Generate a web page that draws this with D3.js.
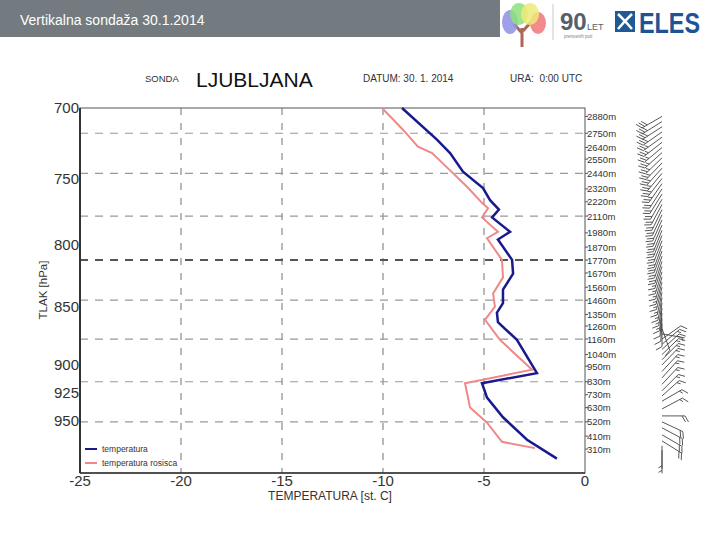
<!DOCTYPE html>
<html>
<head>
<meta charset="utf-8">
<script src="https://cdn.jsdelivr.net/npm/d3@7"></script>
<style>
  body { margin: 0; background: #fff; }
  svg { display: block; font-family: "Liberation Sans", Arial, sans-serif; }
</style>
</head>
<body>
<div id="chart"></div>
<script>
// temperature profile (hPa, st. C)
var tempP = [700, 722, 731.5, 745, 757, 766, 773, 779, 790, 796, 812, 823, 836, 847, 855, 863, 878, 907, 916, 929, 947, 968, 986];
var tempT = [-9.06, -7.33, -6.68, -6.04, -5.05, -4.70, -4.26, -4.60, -3.71, -4.31, -3.61, -3.56, -4.06, -4.06, -4.36, -4.31, -3.37, -2.38, -5.10, -4.85, -4.06, -2.87, -1.39];

// dew point profile
var dewP = [700, 715, 727, 731.5, 744, 756, 768, 772, 779, 790, 795, 812, 826, 839, 850, 861, 878, 904, 916, 938, 952, 970, 976];
var dewT = [-10.05, -9.01, -8.27, -7.57, -6.68, -5.84, -5.10, -4.80, -5.10, -4.31, -4.85, -4.11, -4.06, -4.55, -4.46, -4.95, -4.21, -2.62, -5.94, -5.69, -4.85, -4.11, -2.48];

var pressTicks = [700, 750, 800, 850, 900, 925, 950];
var tempTicks = [-25, -20, -15, -10, -5, 0];
var tempGrid = [-20, -15, -10, -5];

// heights on the right axis (m)
var heightLabels = [2880, 2750, 2640, 2550, 2440, 2320, 2220, 2110, 1980, 1870, 1770, 1670, 1560, 1460, 1350, 1260, 1160, 1040, 950, 830, 730, 630, 520, 410, 310];
var heightGrid = [2750, 2440, 2110, 1770, 1460, 1160, 830, 520];

// wind barbs: height (m), direction (deg), speed (kt)
var windH = [2880, 2840, 2800, 2760, 2720, 2680, 2640, 2600, 2560, 2520, 2480, 2440, 2400, 2360, 2320, 2280, 2240, 2200, 2160, 2120, 2080, 2040, 2000, 1960, 1920, 1880, 1840, 1800, 1760, 1720, 1680, 1640, 1600, 1560, 1520, 1480, 1440, 1400, 1360, 1320, 1280, 1240, 1200, 1160, 1120, 1080, 1040, 1000, 960, 910, 860, 810, 760, 720, 680, 620, 566, 520, 474, 420, 373, 335, 300];
var windDir = [240, 238, 237, 235, 234, 232, 230, 228, 226, 224, 222, 220, 218, 215, 213, 212, 210, 208, 206, 205, 204, 203, 202, 202, 201, 200, 200, 199, 198, 198, 197, 196, 195, 194, 192, 190, 188, 186, 185, 183, 180, 160, 100, 55, 50, 48, 46, 45, 44, 43, 42, 43, 45, 48, 60, 62, 90, 115, 118, 120, 122, 180, 180];
var windSpd = [30, 30, 30, 30, 28, 28, 25, 25, 25, 25, 25, 25, 25, 25, 20, 20, 20, 20, 20, 20, 20, 20, 20, 20, 20, 20, 20, 20, 20, 15, 15, 15, 15, 15, 15, 15, 15, 15, 10, 10, 10, 10, 5, 10, 15, 15, 15, 15, 15, 15, 15, 15, 15, 15, 15, 15, 20, 20, 20, 20, 20, 5, 5];

var W = 720, H = 540;
var plot = { left: 80, right: 585, top: 108, bottom: 473 };

var svg = d3.select('#chart').append('svg')
  .attr('width', W)
  .attr('height', H);

var x = d3.scaleLinear().domain([-25, 0]).range([plot.left, plot.right]);
var y = d3.scaleLog().domain([700, 1000]).range([plot.top, plot.bottom]);
var yh = d3.scaleLinear().domain([125, 2945]).range([plot.bottom, plot.top]);

/**
 * Header band with title and logos
 */
function drawHeader() {
  svg.append('rect')
    .attr('x', 0).attr('y', 0)
    .attr('width', 500).attr('height', 37)
    .attr('fill', '#737b80');

  svg.append('text')
    .attr('x', 20).attr('y', 25)
    .attr('fill', '#fff')
    .attr('font-size', 14)
    .text('Vertikalna sondaža 30.1.2014');

  // tree logo
  var tree = svg.append('g');
  tree.append('path')
    .attr('d', 'M522,47 L522,28 M522,33 L514,24 M523,31 L531,22')
    .attr('stroke', '#a9685a').attr('stroke-width', 3).attr('fill', 'none');
  var blobs = [
    { cx: 510, cy: 22, rx: 8, ry: 12, c: '#8f8fe6' },
    { cx: 538, cy: 23, rx: 8, ry: 11, c: '#f07878' },
    { cx: 519, cy: 14, rx: 9, ry: 11, c: '#8ee07a' },
    { cx: 530, cy: 14, rx: 9, ry: 11, c: '#f0ea78' }
  ];
  tree.selectAll('ellipse').data(blobs).enter().append('ellipse')
    .attr('cx', function (d) { return d.cx; })
    .attr('cy', function (d) { return d.cy; })
    .attr('rx', function (d) { return d.rx; })
    .attr('ry', function (d) { return d.ry; })
    .attr('fill', function (d) { return d.c; })
    .attr('opacity', 0.85);

  svg.append('line')
    .attr('x1', 553).attr('x2', 553).attr('y1', 4).attr('y2', 40)
    .attr('stroke', '#c8c8c8');

  svg.append('text')
    .attr('x', 560).attr('y', 30)
    .attr('font-family', '"Liberation Sans Narrow", sans-serif')
    .attr('font-weight', 'bold').attr('font-size', 24)
    .attr('fill', '#55606a').text('90');
  svg.append('text')
    .attr('x', 587).attr('y', 30)
    .attr('font-size', 9).attr('fill', '#55606a').text('LET');
  svg.append('text')
    .attr('x', 564).attr('y', 38)
    .attr('font-size', 4.5).attr('fill', '#7a8088').text('prenosnih poti');

  // ELES mark
  svg.append('rect')
    .attr('x', 615).attr('y', 11).attr('width', 20).attr('height', 21)
    .attr('fill', '#1f5a96');
  svg.append('path')
    .attr('d', 'M618,14 L625,21 L618,29 M632,14 L625,21 L632,29')
    .attr('stroke', '#fff').attr('stroke-width', 2.5).attr('fill', 'none');
  svg.append('text')
    .attr('x', 639).attr('y', 33)
    .attr('font-family', '"Liberation Sans Narrow", sans-serif')
    .attr('font-weight', 'bold').attr('font-size', 29)
    .attr('textLength', 61).attr('lengthAdjust', 'spacingAndGlyphs')
    .attr('fill', '#1f5494').text('ELES');
}

/**
 * Station / date line above the plot
 */
function drawSubtitle() {
  var row = [
    { x: 145, y: 82, size: 9.5, t: 'SONDA' },
    { x: 196, y: 87, size: 21, t: 'LJUBLJANA' },
    { x: 363, y: 82, size: 10, t: 'DATUM: 30. 1. 2014' },
    { x: 510, y: 82, size: 10, t: 'URA:  0:00 UTC' }
  ];
  svg.selectAll('text.sub').data(row).enter().append('text')
    .attr('class', 'sub')
    .attr('x', function (d) { return d.x; })
    .attr('y', function (d) { return d.y; })
    .attr('font-size', function (d) { return d.size; })
    .attr('fill', function (d) { return d.size > 15 ? '#111' : '#333'; })
    .style('white-space', 'pre')
    .text(function (d) { return d.t; });
}

/**
 * Grid, frame and axis labels
 */
function drawAxes() {
  var g = svg.append('g');

  g.selectAll('line.vgrid').data(tempGrid).enter().append('line')
    .attr('x1', x).attr('x2', x)
    .attr('y1', plot.top).attr('y2', plot.bottom)
    .attr('stroke', '#8a8a8a').attr('stroke-width', 1.2)
    .attr('stroke-dasharray', '7,8');

  g.selectAll('line.hgrid').data(heightGrid).enter().append('line')
    .attr('x1', plot.left).attr('x2', plot.right)
    .attr('y1', yh).attr('y2', yh)
    .attr('stroke', function (d) { return d === 1770 ? '#555' : '#999'; })
    .attr('stroke-width', function (d) { return d === 1770 ? 2 : 1.2; })
    .attr('stroke-dasharray', '8,7');

  // frame
  g.append('rect')
    .attr('x', plot.left).attr('y', plot.top)
    .attr('width', plot.right - plot.left)
    .attr('height', plot.bottom - plot.top)
    .attr('fill', 'none').attr('stroke', '#555').attr('stroke-width', 1);
  g.append('line')
    .attr('x1', plot.left).attr('x2', plot.left)
    .attr('y1', plot.top).attr('y2', plot.bottom)
    .attr('stroke', '#333').attr('stroke-width', 2);
  g.append('line')
    .attr('x1', plot.left).attr('x2', plot.right)
    .attr('y1', plot.bottom).attr('y2', plot.bottom)
    .attr('stroke', '#333').attr('stroke-width', 1.5);

  g.selectAll('text.ptick').data(pressTicks).enter().append('text')
    .attr('x', plot.left - 1)
    .attr('y', function (d) { return y(d) + 5; })
    .attr('text-anchor', 'end')
    .attr('font-size', 15).attr('fill', '#333')
    .text(function (d) { return d; });

  g.selectAll('text.ttick').data(tempTicks).enter().append('text')
    .attr('x', x)
    .attr('y', plot.bottom + 13)
    .attr('text-anchor', 'middle')
    .attr('font-size', 15).attr('fill', '#333')
    .text(function (d) { return d; });

  g.selectAll('line.rtick').data(heightLabels).enter().append('line')
    .attr('x1', plot.right).attr('x2', plot.right + 3)
    .attr('y1', yh).attr('y2', yh)
    .attr('stroke', '#555');

  g.selectAll('text.htick').data(heightLabels).enter().append('text')
    .attr('x', plot.right + 2)
    .attr('y', function (d) { return yh(d) + 3.5; })
    .attr('font-size', 9.5).attr('fill', '#333')
    .text(function (d) { return d + 'm'; });

  g.append('text')
    .attr('x', 330).attr('y', 500)
    .attr('text-anchor', 'middle')
    .attr('font-size', 12).attr('fill', '#333')
    .text('TEMPERATURA [st. C]');

  g.append('text')
    .attr('transform', 'translate(47,290) rotate(-90)')
    .attr('text-anchor', 'middle')
    .attr('font-size', 11.5).attr('fill', '#333')
    .text('TLAK [hPa]');
}

/**
 * Temperature and dew point lines with legend
 */
function drawProfiles() {
  var line = d3.line()
    .x(function (d) { return x(d[1]); })
    .y(function (d) { return y(d[0]); });

  svg.append('path')
    .datum(d3.zip(dewP, dewT))
    .attr('d', line)
    .attr('fill', 'none').attr('stroke', '#f08888').attr('stroke-width', 2);

  svg.append('path')
    .datum(d3.zip(tempP, tempT))
    .attr('d', line)
    .attr('fill', 'none').attr('stroke', '#1a1a8c').attr('stroke-width', 2.5);

  var legend = [
    { t: 'temperatura', c: '#1a1a8c' },
    { t: 'temperatura rosisca', c: '#f08888' }
  ];
  var lg = svg.append('g').attr('transform', 'translate(85,449)');
  lg.selectAll('line').data(legend).enter().append('line')
    .attr('x1', 0).attr('x2', 12)
    .attr('y1', function (d, i) { return i * 14; })
    .attr('y2', function (d, i) { return i * 14; })
    .attr('stroke', function (d) { return d.c; })
    .attr('stroke-width', 2);
  lg.selectAll('text').data(legend).enter().append('text')
    .attr('x', 17)
    .attr('y', function (d, i) { return i * 14 + 3; })
    .attr('font-size', 8.5).attr('fill', '#333')
    .text(function (d) { return d.t; });
}

/**
 * Wind barbs along the right side, shaft points where the wind comes from
 */
function drawBarbs() {
  var sx = 662;
  var L = 23;
  var g = svg.append('g')
    .attr('stroke', '#444').attr('stroke-width', 0.9).attr('fill', 'none');

  windH.forEach(function (h, i) {
    var y0 = yh(h);
    var rad = windDir[i] * Math.PI / 180;
    var ux = Math.sin(rad), uy = -Math.cos(rad);
    var fa = Math.atan2(uy, ux) + Math.PI / 3;
    var fx = Math.cos(fa), fy = Math.sin(fa);
    var d = 'M' + sx + ',' + y0 + 'L' + (sx + ux * L) + ',' + (y0 + uy * L);
    var spd = windSpd[i];
    var pos = L;
    while (spd >= 10) {
      var bx = sx + ux * pos, by = y0 + uy * pos;
      d += 'M' + bx + ',' + by + 'l' + (fx * 7) + ',' + (fy * 7);
      spd -= 10;
      pos -= 3;
    }
    if (spd >= 5) {
      if (pos === L) pos -= 3;
      var hx = sx + ux * pos, hy = y0 + uy * pos;
      d += 'M' + hx + ',' + hy + 'l' + (fx * 4) + ',' + (fy * 4);
    }
    g.append('path').attr('d', d);
  });
}

drawHeader();
drawSubtitle();
drawAxes();
drawProfiles();
drawBarbs();
</script>
</body>
</html>
